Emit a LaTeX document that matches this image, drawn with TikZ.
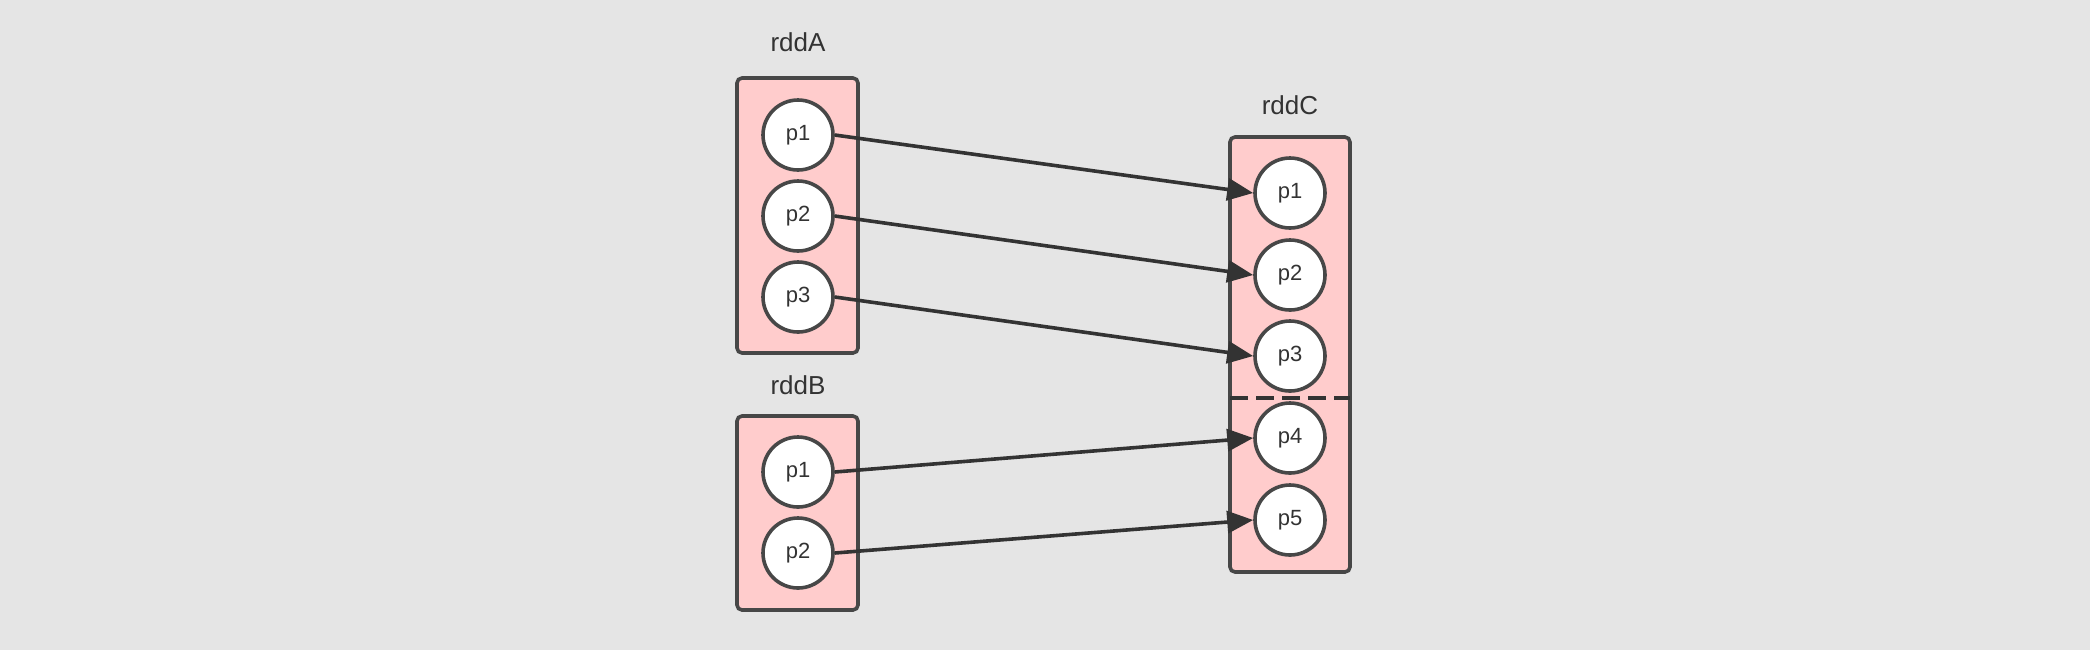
\documentclass[tikz,border=0pt]{standalone}
\usepackage{fontspec}
\setmainfont{Liberation Sans}
\usetikzlibrary{arrows.meta}
\definecolor{bg}{HTML}{E5E5E5}
\definecolor{boxfill}{HTML}{FFCCCC}
\definecolor{ink}{HTML}{333333}
\tikzset{
  rddbox/.style={draw=ink!90!white, fill=boxfill, line width=1.8pt, rounded corners=2.5pt},
  part/.style={circle, draw=ink!90!white, fill=white, line width=1.8pt, minimum size=35pt, inner sep=0pt, text=ink, font=\fontsize{11}{12}\selectfont},
  title/.style={text=ink, font=\fontsize{13}{14}\selectfont},
  link/.style={draw=ink, line width=1.8pt, -{Triangle[length=13pt,width=11pt]}}
}
\begin{document}
\begin{tikzpicture}[x=0.5pt,y=-0.5pt]
\fill[bg] (0,0) rectangle (2090,650);
\useasboundingbox (0,0) rectangle (2090,650);
% rddA
\node[title] (tA) at (798,42) {rddA};
\draw[rddbox] (737,78) rectangle (858,353);
\node[part] (a1) at (798,135) {p1};
\node[part] (a2) at (798,216) {p2};
\node[part] (a3) at (798,297) {p3};
% rddB
\node[title] (tB) at (798,385) {rddB};
\draw[rddbox] (737,416) rectangle (858,610);
\node[part] (b1) at (798,472) {p1};
\node[part] (b2) at (798,553) {p2};
% rddC
\node[title] (tC) at (1290,105) {rddC};
\draw[rddbox] (1230,137) rectangle (1350,572);
\coordinate (dl) at (1230,398);
\coordinate (dr) at (1350,398);
\draw[draw=ink, line width=1.8pt, dash pattern=on 9pt off 4pt] (dl) -- (dr);
\node[part] (c1) at (1290,193) {p1};
\node[part] (c2) at (1290,275) {p2};
\node[part] (c3) at (1290,356) {p3};
\node[part] (c4) at (1290,438) {p4};
\node[part] (c5) at (1290,520) {p5};
% links
\draw[link] (a1.east) -- (c1.west);
\draw[link] (a2.east) -- (c2.west);
\draw[link] (a3.east) -- (c3.west);
\draw[link] (b1.east) -- (c4.west);
\draw[link] (b2.east) -- (c5.west);
\end{tikzpicture}
\end{document}
